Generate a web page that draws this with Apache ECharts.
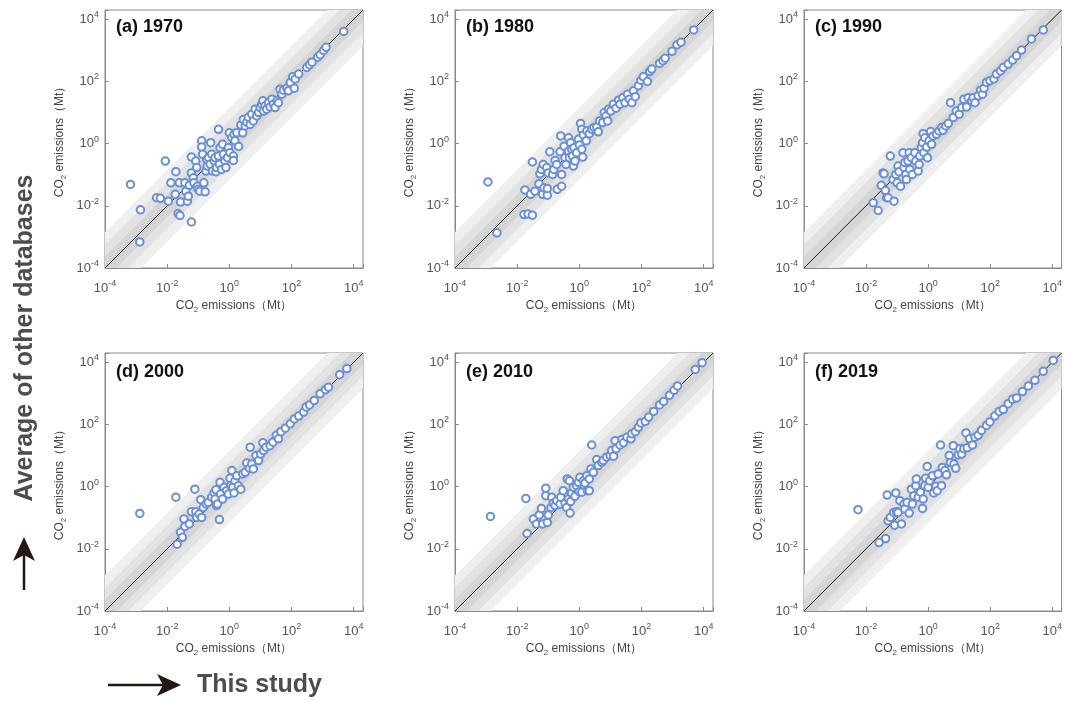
<!DOCTYPE html>
<html>
<head>
<meta charset="utf-8">
<script src="https://cdn.jsdelivr.net/npm/echarts@6/dist/echarts.min.js"></script>
<style>
html,body{margin:0;padding:0;background:#ffffff;}
#chart{width:1065px;height:702px;}
</style>
</head>
<body>
<div id="chart"></div>
<script>
// ---------------- data (log10 of CO2 emissions, Mt) ----------------
// each point: [this study, average of other databases]
const panelTitles = ['(a) 1970', '(b) 1980', '(c) 1990', '(d) 2000', '(e) 2010', '(f) 2019'];
const tickExponents = [-4, -2, 0, 2, 4];
const axisMinExp = -4;
const axisMaxExp = 4.3;
const bandHalfWidths = [1.15, 0.75, 0.37]; // decades around the 1:1 line
const bandColors = ['#efefef', '#e2e2e2', '#d5d5d5'];

const data1970 = [
[-3.18,-1.31],[-2.86,-2.13],[-2.88,-3.16],[-2.06,-0.56],[-2.34,-1.74],[-2.22,-1.76],[-1.96,-1.85],[-1.88,-1.26],
[-1.72,-0.90],[-1.74,-1.63],[-1.65,-2.25],[-1.59,-2.31],[-1.61,-1.26],[-1.57,-1.88],[-1.43,-1.26],[-1.40,-1.53],
[-1.35,-1.85],[-1.32,-1.69],[-1.29,-1.34],[-1.22,-0.43],[-1.22,-2.52],[-1.22,-0.94],[-1.16,-1.10],[-1.14,-1.26],
[-1.08,-0.56],[-1.05,-0.77],[-1.03,-1.37],[-1.00,-1.47],[-0.95,-1.53],[-0.89,0.09],[-0.89,-0.11],[-0.86,-0.34],
[-0.82,-1.26],[-0.78,-1.55],[-0.75,-0.88],[-0.73,-0.51],[-0.71,-0.72],[-0.67,-0.45],[-0.62,-0.66],[-0.60,0.03],
[-0.57,-0.34],[-0.54,-0.88],[-0.49,-0.56],[-0.46,-0.45],[-0.43,-0.90],[-0.41,-0.77],[-0.35,0.46],[-0.35,-0.40],
[-0.32,-0.66],[-0.30,-0.13],[-0.25,-0.83],[-0.22,-0.02],[-0.19,-0.34],[-0.14,-0.56],[-0.11,-0.77],[-0.06,-0.45],
[-0.03,-0.13],[0.00,0.35],[0.02,-0.29],[0.08,0.19],[0.13,-0.40],[0.13,-0.54],[0.15,0.30],[0.18,0.09],
[0.24,0.35],[0.30,-0.09],[0.37,0.60],[0.43,0.35],[0.45,0.78],[0.51,0.57],[0.56,0.69],[0.61,0.85],
[0.67,0.62],[0.72,0.95],[0.77,0.73],[0.83,1.11],[0.88,0.89],[0.94,1.00],[0.99,1.16],[1.04,1.27],
[1.08,1.38],[1.10,1.05],[1.15,1.22],[1.20,1.11],[1.26,1.32],[1.31,1.18],[1.37,1.43],[1.42,1.27],
[1.47,1.16],[1.53,1.38],[1.58,1.32],[1.63,1.75],[1.69,1.59],[1.74,1.72],[1.85,1.78],[1.90,1.70],
[1.96,1.97],[2.04,2.15],[2.09,1.78],[2.12,2.08],[2.23,2.24],[2.49,2.45],[2.58,2.54],[2.66,2.62],
[2.84,2.78],[2.92,2.86],[3.03,3.00],[3.11,3.10],[3.68,3.61]
];
const data1980 = [
[-2.94,-1.23],[-2.65,-2.87],[-1.78,-2.28],[-1.65,-2.26],[-1.51,-2.30],[-1.75,-1.49],[-1.57,-1.63],[-1.43,-1.53],
[-1.51,-0.59],[-1.30,-1.29],[-1.27,-0.97],[-1.22,-0.83],[-1.18,-1.63],[-1.16,-0.67],[-1.14,-1.42],[-1.05,-0.77],
[-1.03,-1.66],[-1.03,-1.44],[-1.00,-0.94],[-0.95,-0.26],[-0.86,-0.99],[-0.82,-0.83],[-0.78,-0.54],[-0.73,-0.67],
[-0.71,-1.47],[-0.62,-0.26],[-0.60,0.25],[-0.57,-0.99],[-0.57,-1.37],[-0.49,-0.08],[-0.46,-0.45],[-0.43,-0.67],
[-0.35,0.19],[-0.35,-0.24],[-0.32,-0.45],[-0.28,0.03],[-0.25,-0.18],[-0.22,-0.40],[-0.19,-0.72],[-0.17,-0.13],
[-0.14,-0.56],[-0.09,-0.29],[-0.03,0.14],[0.00,-0.04],[0.04,0.65],[0.08,0.46],[0.08,-0.18],[0.11,-0.43],
[0.13,0.28],[0.22,0.09],[0.24,0.41],[0.32,0.32],[0.40,0.46],[0.47,0.52],[0.56,0.54],[0.61,0.38],
[0.65,0.73],[0.75,0.68],[0.80,1.00],[0.86,0.89],[0.91,0.73],[0.94,1.11],[1.01,1.05],[1.10,1.27],
[1.18,1.14],[1.26,1.40],[1.31,1.27],[1.40,1.48],[1.47,1.32],[1.55,1.59],[1.61,1.43],[1.69,1.32],
[1.74,1.70],[1.80,1.51],[1.90,1.86],[1.98,2.04],[2.06,2.15],[2.19,2.00],[2.26,2.32],[2.33,2.40],
[2.58,2.58],[2.69,2.67],[2.76,2.75],[2.98,2.97],[3.14,3.18],[3.27,3.26],[3.68,3.66]
];
const data1990 = [
[-1.77,-1.90],[-1.61,-2.15],[-1.51,-1.34],[-1.45,-0.94],[-1.42,-0.97],[-1.38,-1.51],[-1.34,-1.74],[-1.29,-1.74],
[-1.22,-0.40],[-1.13,-1.15],[-1.10,-1.85],[-1.04,-0.99],[-1.00,-1.26],[-0.97,-0.72],[-0.94,-0.90],[-0.89,-1.37],
[-0.81,-0.29],[-0.78,-0.77],[-0.75,-0.61],[-0.72,-0.99],[-0.70,-1.15],[-0.65,-0.56],[-0.61,-0.29],[-0.59,-0.83],
[-0.54,-0.45],[-0.51,-0.99],[-0.43,-0.29],[-0.40,-0.56],[-0.32,-0.88],[-0.29,-0.67],[-0.27,-0.40],[-0.22,-0.13],
[-0.18,0.03],[-0.16,0.32],[-0.14,-0.29],[-0.11,0.19],[-0.05,-0.11],[-0.02,-0.45],[0.03,0.09],[0.08,0.39],
[0.11,-0.02],[0.16,0.25],[0.27,0.30],[0.35,0.41],[0.43,0.52],[0.48,0.43],[0.57,0.57],[0.65,0.65],
[0.72,1.32],[0.81,0.84],[0.91,1.05],[1.00,0.95],[1.08,1.16],[1.15,1.43],[1.24,1.18],[1.29,1.48],
[1.40,1.38],[1.45,1.48],[1.51,1.32],[1.61,1.54],[1.69,1.72],[1.75,1.59],[1.80,1.78],[1.88,1.97],
[1.99,2.02],[2.12,2.08],[2.20,2.24],[2.33,2.34],[2.42,2.45],[2.58,2.56],[2.72,2.69],[2.85,2.83],
[3.01,3.01],[3.33,3.37],[3.71,3.66]
];
const data2000 = [
[-2.88,-0.86],[-1.72,-0.34],[-1.68,-1.85],[-1.57,-1.47],[-1.51,-1.63],[-1.46,-1.04],[-1.43,-1.28],[-1.29,-1.20],
[-1.22,-0.81],[-1.11,-0.08],[-1.08,-0.81],[-1.05,-0.99],[-0.97,-0.88],[-0.92,-0.42],[-0.89,-0.99],[-0.84,-0.67],
[-0.75,-0.56],[-0.68,-0.51],[-0.57,-0.34],[-0.49,-0.20],[-0.46,-0.40],[-0.43,-0.10],[-0.41,-0.61],[-0.38,-0.56],
[-0.32,-1.06],[-0.30,0.14],[-0.28,-0.24],[-0.22,-0.40],[-0.17,-0.02],[-0.09,-0.13],[-0.03,-0.24],[0.02,0.27],
[0.04,0.03],[0.08,0.52],[0.11,-0.02],[0.15,-0.20],[0.18,0.19],[0.24,0.35],[0.29,0.03],[0.37,-0.08],
[0.43,0.41],[0.51,0.46],[0.56,0.76],[0.65,0.59],[0.67,1.27],[0.72,0.73],[0.77,0.57],[0.86,1.00],
[0.94,0.84],[1.01,1.05],[1.08,1.41],[1.10,1.16],[1.18,1.27],[1.31,1.32],[1.40,1.43],[1.51,1.65],
[1.58,1.54],[1.66,1.77],[1.80,1.88],[1.96,2.02],[2.09,2.18],[2.23,2.27],[2.39,2.40],[2.47,2.56],
[2.58,2.63],[2.73,2.77],[2.92,2.99],[3.09,3.12],[3.19,3.20],[3.55,3.60],[3.78,3.80]
];
const data2010 = [
[-2.86,-0.96],[-1.72,-0.38],[-1.68,-1.51],[-1.48,-1.04],[-1.38,-1.20],[-1.29,-0.91],[-1.22,-0.70],[-1.18,-1.20],
[-1.08,-0.05],[-1.08,-0.29],[-1.03,-1.15],[-1.00,-0.91],[-0.91,-0.67],[-0.89,-0.34],[-0.84,-0.53],[-0.78,-0.61],
[-0.73,-0.45],[-0.62,-0.56],[-0.60,-0.34],[-0.52,-0.13],[-0.46,-0.53],[-0.41,-0.67],[-0.39,0.25],[-0.35,-0.40],
[-0.32,0.19],[-0.30,-0.85],[-0.28,-0.48],[-0.25,-0.20],[-0.19,-0.02],[-0.14,-0.31],[-0.09,0.03],[-0.03,0.14],
[0.00,-0.16],[0.02,0.30],[0.08,-0.18],[0.13,0.19],[0.18,0.12],[0.24,0.35],[0.26,-0.13],[0.32,0.25],
[0.32,-0.13],[0.37,0.57],[0.40,1.34],[0.45,0.46],[0.56,0.87],[0.61,0.68],[0.72,0.78],[0.77,0.84],
[0.88,0.95],[0.99,1.00],[1.04,1.16],[1.10,0.98],[1.15,1.48],[1.18,1.22],[1.31,1.34],[1.37,1.52],
[1.42,1.41],[1.53,1.59],[1.66,1.54],[1.69,1.70],[1.80,1.77],[1.90,1.91],[1.98,2.05],[2.12,2.10],
[2.23,2.24],[2.39,2.42],[2.58,2.63],[2.71,2.74],[2.90,2.94],[3.05,3.10],[3.16,3.24],[3.73,3.77],
[3.95,3.99]
];
const data2019 = [
[-2.26,-0.74],[-1.58,-1.80],[-1.37,-1.67],[-1.32,-0.27],[-1.29,-1.10],[-1.22,-0.99],[-1.11,-0.83],[-1.08,-1.24],
[-1.04,-0.20],[-1.02,-0.81],[-0.97,-0.83],[-0.91,-0.45],[-0.86,-1.20],[-0.78,-0.56],[-0.75,-0.72],[-0.68,-0.51],
[-0.61,-0.85],[-0.54,-0.08],[-0.51,-0.56],[-0.46,-0.29],[-0.40,0.03],[-0.38,0.25],[-0.32,-0.34],[-0.25,-0.18],
[-0.18,-0.70],[-0.16,-0.40],[-0.11,0.03],[-0.08,0.27],[-0.03,0.65],[0.00,-0.02],[0.05,0.19],[0.14,0.35],
[0.18,-0.20],[0.25,0.01],[0.29,-0.13],[0.32,0.41],[0.40,1.34],[0.43,0.03],[0.46,0.62],[0.54,0.52],
[0.59,0.38],[0.68,1.00],[0.72,0.78],[0.81,1.32],[0.83,0.73],[0.89,0.59],[0.97,1.02],[1.02,1.22],
[1.08,1.05],[1.15,1.22],[1.22,1.73],[1.26,1.25],[1.34,1.54],[1.43,1.34],[1.51,1.59],[1.61,1.65],
[1.72,1.81],[1.88,1.97],[1.99,2.08],[2.15,2.27],[2.29,2.42],[2.42,2.48],[2.58,2.67],[2.72,2.81],
[2.85,2.85],[3.04,3.06],[3.23,3.24],[3.44,3.42],[3.71,3.71],[4.03,4.06]
];
const panelData = [data1970, data1980, data1990, data2000, data2010, data2019];

// ---------------- layout / style ----------------
const FONT = '"Liberation Sans", Arial, Helvetica, sans-serif';
const gridLefts = [105, 455, 804];
const gridTops = [10, 353];
const gridSize = 258;
const frameColor = '#8a8a8a';
const labelColor = '#555555';
const markerColor = '#6a8fd6';

const grids = [], xAxes = [], yAxes = [], series = [], titles = [];

const labelRich = {
  b: { fontSize: 13, color: labelColor, fontFamily: FONT, lineHeight: 18 },
  s: { fontSize: 9, color: labelColor, fontFamily: FONT, lineHeight: 9, verticalAlign: 'top' }
};
const nameRich = {
  n: { fontSize: 12, color: '#444444', fontFamily: FONT, lineHeight: 16 },
  sub: { fontSize: 8, color: '#444444', fontFamily: FONT, lineHeight: 8, verticalAlign: 'bottom' }
};
const axisName = '{n|CO}{sub|2}{n| emissions（Mt）}';
function tickFormatter(v) {
  return tickExponents.indexOf(v) >= 0 ? '{b|10}{s|' + v + '}' : '';
}

for (let i = 0; i < 6; i++) {
  const col = i % 3, row = Math.floor(i / 3);
  const left = gridLefts[col], top = gridTops[row];
  grids.push({ left: left, top: top, width: gridSize, height: gridSize, show: true,
    borderColor: frameColor, borderWidth: 1, backgroundColor: 'transparent' });
  const common = {
    type: 'value', gridIndex: i, min: axisMinExp, max: axisMaxExp, interval: 2,
    axisLine: { show: true, onZero: false, lineStyle: { color: frameColor, width: 1 } },
    axisTick: { show: true, inside: true, length: 4, lineStyle: { color: frameColor } },
    splitLine: { show: false },
    name: axisName, nameLocation: 'middle',
    nameTextStyle: { rich: nameRich }
  };
  xAxes.push(Object.assign({}, common, {
    position: 'bottom',
    nameGap: 30,
    axisLabel: { margin: 11, formatter: tickFormatter, rich: labelRich }
  }));
  yAxes.push(Object.assign({}, common, {
    position: 'left',
    nameGap: 37,
    axisLabel: { margin: 6, formatter: tickFormatter, rich: labelRich }
  }));

  // shaded bands around the 1:1 line
  series.push({
    type: 'custom', xAxisIndex: i, yAxisIndex: i, silent: true, z: 1,
    data: bandHalfWidths.map((d, k) => [d, k]),
    renderItem: function (params, api) {
      const d = api.value(0), k = api.value(1);
      const m = axisMinExp, M = axisMaxExp;
      const pts = [[m, m + d], [M - d, M], [M, M], [M, M - d], [m + d, m], [m, m]]
        .map(p => api.coord(p));
      return { type: 'polygon', shape: { points: pts }, style: { fill: bandColors[k] } };
    }
  });
  // 1:1 line
  series.push({
    type: 'line', xAxisIndex: i, yAxisIndex: i, silent: true, z: 2,
    data: [[axisMinExp, axisMinExp], [axisMaxExp, axisMaxExp]],
    symbol: 'none', lineStyle: { color: '#1a1a1a', width: 1 }
  });
  // points
  series.push({
    type: 'scatter', xAxisIndex: i, yAxisIndex: i, z: 3,
    data: panelData[i], symbol: 'circle', symbolSize: 7.5,
    itemStyle: { color: '#ffffff', borderColor: markerColor, borderWidth: 2, opacity: 1 }
  });

  titles.push({
    text: panelTitles[i], left: left + 11, top: row === 0 ? 17 : 362, padding: 0,
    textStyle: { fontSize: 18, fontWeight: 'bold', color: '#111111', fontFamily: FONT, lineHeight: 20 }
  });
}

const arrowColor = '#231815';
const graphic = [
  { type: 'text', x: 25, y: 338, rotation: Math.PI / 2,
    style: { text: 'Average of other databases', fill: '#4d4d4d', font: 'bold 25px ' + FONT,
      align: 'center', verticalAlign: 'middle', textAlign: 'center', textVerticalAlign: 'middle' } },
  { type: 'line', shape: { x1: 24, y1: 590, x2: 24, y2: 552 }, style: { stroke: arrowColor, lineWidth: 2.5 } },
  { type: 'polygon', shape: { points: [[24, 537], [35, 561], [24, 555], [13, 561]] }, style: { fill: arrowColor } },
  { type: 'line', shape: { x1: 108, y1: 685, x2: 166, y2: 685 }, style: { stroke: arrowColor, lineWidth: 2.5 } },
  { type: 'polygon', shape: { points: [[181, 685], [157, 674], [163, 685], [157, 696]] }, style: { fill: arrowColor } },
  { type: 'text', x: 197, y: 685,
    style: { text: 'This study', fill: '#4d4d4d', font: 'bold 25px ' + FONT,
      align: 'left', verticalAlign: 'middle', textAlign: 'left', textVerticalAlign: 'middle' } }
];

const chart = echarts.init(document.getElementById('chart'), null, { renderer: 'canvas' });
chart.setOption({
  backgroundColor: '#ffffff',
  animation: false,
  title: titles,
  grid: grids,
  xAxis: xAxes,
  yAxis: yAxes,
  series: series,
  graphic: graphic
});
</script>
</body>
</html>
